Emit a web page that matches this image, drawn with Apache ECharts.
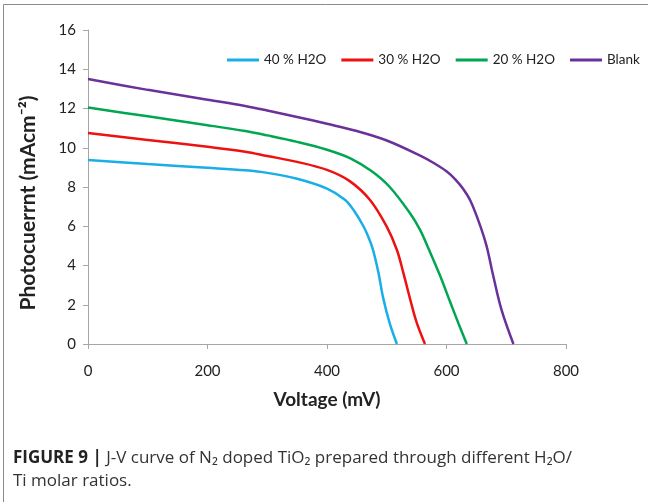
<!DOCTYPE html>
<html>
<head>
<meta charset="utf-8">
<script src="https://cdn.jsdelivr.net/npm/echarts@6/dist/echarts.min.js"></script>
<style>
  html, body { margin: 0; padding: 0; background: #ffffff; }
  #chart { width: 648px; height: 502px; }
</style>
</head>
<body>
<div id="chart"></div>
<script>
// ---- data ----
var seriesNames = ['40 % H2O', '30 % H2O', '20 % H2O', 'Blank'];
var xTicks = [0, 200, 400, 600, 800];
var yTicks = [0, 2, 4, 6, 8, 10, 12, 14, 16];

var v40 = [0, 100, 200, 263, 300, 350, 400, 430, 445, 461, 470, 477, 486, 494, 505, 517];
var j40 = [9.38, 9.17, 8.98, 8.85, 8.72, 8.42, 7.92, 7.35, 6.8, 6.0, 5.4, 4.8, 3.65, 2.35, 1.05, 0];

var v30 = [0, 100, 200, 263, 300, 350, 400, 438, 472, 500, 517, 528, 539, 550, 564];
var j30 = [10.75, 10.4, 10.05, 9.8, 9.58, 9.28, 8.87, 8.3, 7.34, 5.98, 4.79, 3.6, 2.3, 1.1, 0];

var v20 = [0, 100, 200, 263, 300, 350, 400, 440, 475, 505, 539, 556, 570, 589, 606, 620, 634];
var j20 = [12.05, 11.6, 11.15, 10.85, 10.63, 10.3, 9.9, 9.45, 8.8, 8.0, 6.66, 5.8, 4.85, 3.5, 2.15, 1.05, 0];

var vBl = [0, 100, 200, 263, 300, 350, 400, 450, 500, 556, 580, 600, 615, 628, 640, 655, 667, 678, 692, 712];
var jBl = [13.5, 12.95, 12.45, 12.13, 11.9, 11.57, 11.22, 10.85, 10.37, 9.6, 9.2, 8.8, 8.38, 7.9, 7.3, 6.15, 5.0, 3.5, 1.75, 0];

var colors = ['#1aaee6', '#ee1111', '#00a651', '#6a3198'];

function pairs(xs, ys) {
  var out = [];
  for (var i = 0; i < xs.length; i++) out.push([xs[i], ys[i]]);
  return out;
}
var allData = [pairs(v40, j40), pairs(v30, j30), pairs(v20, j20), pairs(vBl, jBl)];

var chart = echarts.init(document.getElementById('chart'), null, { renderer: 'canvas' });

var font = 'Lato, "Open Sans", sans-serif';
var capFont = '"Open Sans", Roboto, sans-serif';

var option = {
  backgroundColor: '#ffffff',
  animation: false,
  color: colors,
  grid: { left: 88, right: 82, top: 30, bottom: 158, containLabel: false },
  legend: {
    left: 222,
    top: 48,
    width: 440,
    icon: 'rect',
    itemWidth: 32,
    itemHeight: 3,
    itemGap: 15,
    textStyle: { fontFamily: font, fontSize: 13.5, color: '#222' },
    data: seriesNames
  },
  xAxis: {
    type: 'value',
    min: 0, max: 800, interval: 200,
    axisLine: { show: true, lineStyle: { color: '#a6a6a6', width: 1 } },
    axisTick: { show: true, length: 5, lineStyle: { color: '#a6a6a6' } },
    splitLine: { show: false },
    axisLabel: {
      margin: 20, fontFamily: font, fontSize: 15, color: '#222',
      formatter: function (v) { return xTicks.indexOf(v) >= 0 ? String(v) : ''; }
    },
    name: 'Voltage (mV)',
    nameLocation: 'middle',
    nameGap: 46,
    nameTextStyle: { fontFamily: font, fontSize: 19, fontWeight: 'bold', color: '#222' }
  },
  yAxis: {
    type: 'value',
    min: 0, max: 16, interval: 2,
    axisLine: { show: true, lineStyle: { color: '#a6a6a6', width: 1 } },
    axisTick: { show: true, length: 5, lineStyle: { color: '#a6a6a6' } },
    splitLine: { show: false },
    axisLabel: {
      margin: 12, fontFamily: font, fontSize: 15, color: '#222',
      formatter: function (v) { return yTicks.indexOf(v) >= 0 ? String(v) : ''; }
    }
  },
  series: seriesNames.map(function (n, i) {
    return {
      name: n,
      type: 'line',
      data: allData[i],
      smooth: 0.35,
      symbol: 'none',
      lineStyle: { width: 2.5, color: colors[i] },
      itemStyle: { color: colors[i] }
    };
  }),
  graphic: [
    { type: 'line', shape: { x1: 3.5, y1: 4.5, x2: 648, y2: 4.5 }, style: { stroke: '#8a8a8a', lineWidth: 1 }, silent: true },
    { type: 'line', shape: { x1: 3.5, y1: 4.5, x2: 3.5, y2: 502 }, style: { stroke: '#8a8a8a', lineWidth: 1 }, silent: true },
    {
      type: 'text', x: 28, y: 203, rotation: Math.PI / 2,
      style: {
        text: 'Photocuerrnt (mAcm\u207B\u00B2)',
        font: 'bold 21px ' + font,
        fill: '#222', textAlign: 'center', textVerticalAlign: 'middle'
      }
    },
    {
      type: 'text', x: 13, y: 458,
      style: {
        text: '{b|FIGURE 9 |} J-V curve of N\u2082 doped TiO\u2082 prepared through different H\u2082O/',
        rich: { b: { fontWeight: 'bold', fontSize: 17, fontFamily: capFont, fill: '#222' } },
        font: '17px ' + capFont,
        fill: '#333', textVerticalAlign: 'middle', textAlign: 'left'
      }
    },
    {
      type: 'text', x: 13, y: 481,
      style: {
        text: 'Ti molar ratios.',
        font: '17px ' + capFont,
        fill: '#333', textVerticalAlign: 'middle', textAlign: 'left'
      }
    }
  ]
};
chart.setOption(option);
</script>
</body>
</html>
